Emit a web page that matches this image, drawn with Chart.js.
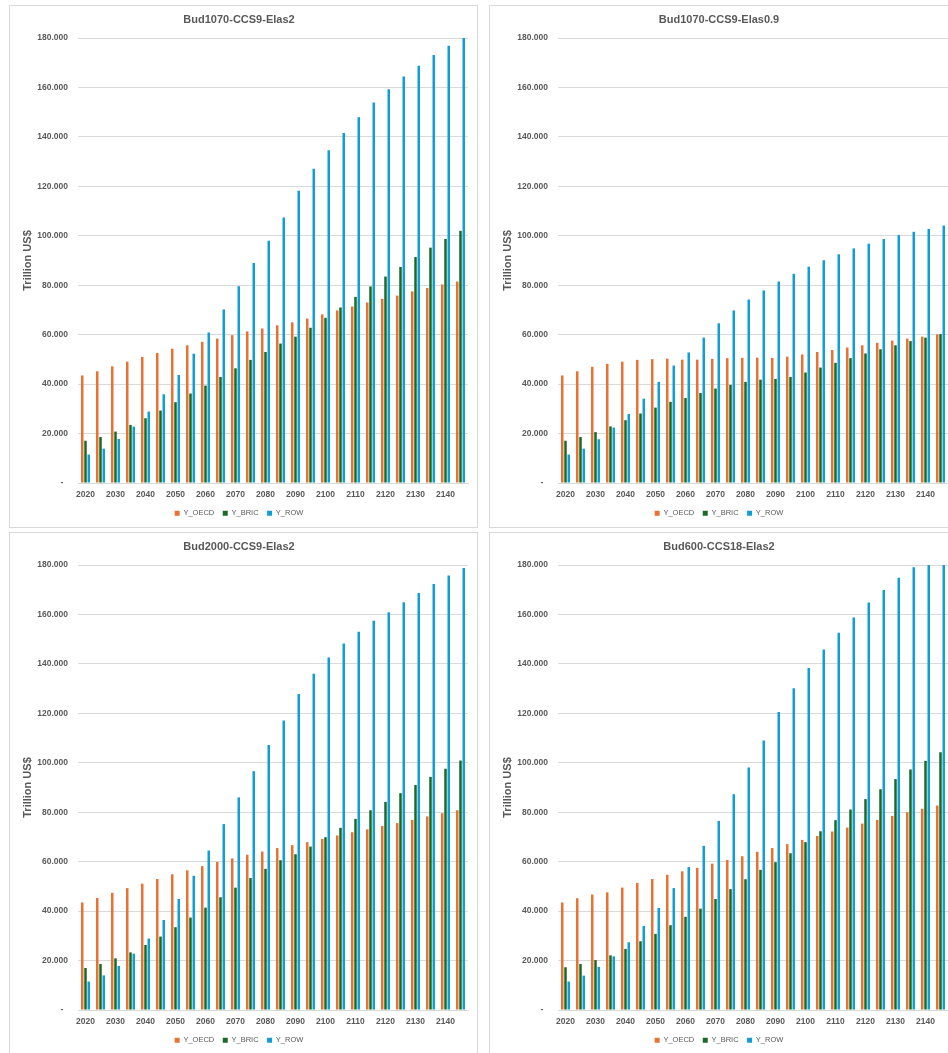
<!DOCTYPE html>
<html>
<head>
<meta charset="utf-8">
<script src="https://cdn.jsdelivr.net/npm/chart.js@4.4.1/dist/chart.umd.min.js"></script>
<style>
  html, body { margin: 0; padding: 0; background: #fff; width: 948px; height: 1053px; overflow: hidden; }
  .panel { position: absolute; width: 469px; height: 523px; border: 1px solid #d9d9d9; box-sizing: border-box; background: #fff; }
  .panel canvas { display: block; }
</style>
</head>
<body>
<div class="panel" style="left:9px; top:5px;"><canvas id="c1" width="467" height="521"></canvas></div>
<div class="panel" style="left:489px; top:5px;"><canvas id="c2" width="467" height="521"></canvas></div>
<div class="panel" style="left:9px; top:532px;"><canvas id="c3" width="467" height="521"></canvas></div>
<div class="panel" style="left:489px; top:532px;"><canvas id="c4" width="467" height="521"></canvas></div>
<script>
const years = ['2020','2025','2030','2035','2040','2045','2050','2055','2060','2065','2070','2075','2080',
  '2085','2090','2095','2100','2105','2110','2115','2120','2125','2130','2135','2140','2145'];
const shownYears = ['2020','2030','2040','2050','2060','2070','2080','2090','2100','2110','2120','2130','2140'];
const seriesNames = ['Y_OECD', 'Y_BRIC', 'Y_ROW'];

// Bud1070-CCS9-Elas2
const oecdA = [43.5,45.2,47.2,49.1,51.0,52.6,54.3,55.7,57.1,58.4,59.8,61.3,62.5,63.8,65.0,66.5,68.2,69.8,71.4,73.0,74.5,75.8,77.5,78.9,80.3,81.5];
const bricA = [17.1,18.6,20.8,23.5,26.2,29.3,32.7,36.2,39.4,42.9,46.4,49.8,53.0,56.4,59.2,62.8,66.8,71.0,75.3,79.5,83.5,87.4,91.4,95.2,98.7,102.0];
const rowA = [11.5,13.9,17.8,22.8,28.9,35.9,43.7,52.3,60.9,70.2,79.6,89.0,98.0,107.4,118.2,127.1,134.6,141.6,147.9,153.9,159.3,164.4,168.8,173.1,176.9,180.4];

// Bud1070-CCS9-Elas0.9
const oecdB = [43.5,45.2,47.0,48.2,49.1,49.8,50.1,50.3,49.9,49.9,50.2,50.5,50.6,50.7,50.6,51.1,52.0,53.0,53.8,54.8,55.7,56.7,57.6,58.4,59.2,60.1];
const bricB = [17.1,18.6,20.6,22.9,25.4,28.1,30.5,32.8,34.4,36.4,38.2,39.7,40.9,41.8,42.1,42.9,44.7,46.7,48.6,50.5,52.4,54.1,55.7,57.4,58.8,60.2];
const rowB = [11.5,13.9,17.7,22.4,27.9,34.1,40.9,47.5,52.8,58.8,64.6,69.8,74.2,77.9,81.5,84.6,87.5,90.1,92.5,94.9,96.8,98.7,100.3,101.6,102.8,104.2];

// Bud2000-CCS9-Elas2
const oecdC = [43.5,45.3,47.4,49.3,51.1,53.0,54.9,56.5,58.2,59.9,61.3,62.8,64.1,65.5,66.7,67.9,69.2,70.6,71.9,73.1,74.4,75.6,76.9,78.3,79.6,80.8];
const bricC = [17.0,18.6,20.9,23.3,26.3,29.7,33.5,37.4,41.4,45.6,49.5,53.4,57.1,60.6,63.0,66.1,69.9,73.7,77.3,80.8,84.2,87.7,91.0,94.3,97.6,100.9];
const rowC = [11.5,14.0,17.8,22.8,28.9,36.4,44.9,54.3,64.5,75.2,86.0,96.6,107.2,117.1,127.8,136.0,142.6,148.2,153.0,157.4,160.9,164.9,168.7,172.3,175.8,178.8];

// Bud600-CCS18-Elas2
const oecdD = [43.5,45.2,46.7,47.6,49.5,51.4,53.0,54.7,56.1,57.5,59.2,60.7,62.2,64.0,65.5,67.1,68.8,70.4,72.2,73.8,75.4,76.9,78.5,80.0,81.4,82.7];
const bricD = [17.3,18.6,20.2,22.1,24.7,27.8,30.8,34.3,37.7,41.0,44.9,48.9,52.9,56.7,59.8,63.4,67.9,72.3,76.8,81.1,85.3,89.3,93.4,97.3,100.8,104.3];
const rowD = [11.5,13.9,17.4,21.7,27.4,34.0,41.3,49.3,57.8,66.4,76.5,87.3,98.1,109.0,120.5,130.1,138.3,145.8,152.6,158.8,164.8,169.9,174.8,179.1,183.2,187.0];

const colors = ['#E97132', '#196B24', '#0F9ED5'];
const fontFam = "'Liberation Sans', Arial, sans-serif";
const grey = '#595959';

function drawChart(id, title, oecd, bric, row) {
  const ctx = document.getElementById(id).getContext('2d');
  const values = [oecd, bric, row];
  new Chart(ctx, {
    type: 'bar',
    data: {
      labels: years,
      datasets: seriesNames.map((name, i) => ({
        label: name,
        data: values[i],
        backgroundColor: colors[i],
        borderWidth: 0,
        categoryPercentage: 0.65,
        barPercentage: 0.77,
      })),
    },
    options: {
      responsive: false,
      animation: false,
      layout: { padding: { top: 0, left: 0, right: 9, bottom: 0 } },
      plugins: {
        title: {
          display: true,
          text: title,
          color: grey,
          font: { family: fontFam, size: 11, weight: 'bold' },
          padding: { top: 7.7, bottom: 11.1 },
        },
        legend: {
          position: 'bottom',
          labels: {
            boxWidth: 5,
            boxHeight: 5,
            padding: 8.5,
            color: grey,
            font: { family: fontFam, size: 7.5 },
          },
        },
        tooltip: { enabled: false },
      },
      scales: {
        x: {
          grid: { display: false, drawTicks: false },
          border: { display: true, color: '#d9d9d9' },
          ticks: {
            autoSkip: false,
            maxRotation: 0,
            padding: 7,
            color: grey,
            font: { family: fontFam, size: 8.5, weight: 'bold' },
            callback: function (value) {
              const lab = this.getLabelForValue(value);
              return shownYears.includes(lab) ? lab : '';
            },
          },
          afterFit: (scale) => { scale.height = 18; },
        },
        y: {
          min: 0,
          max: 180,
          grid: { color: '#d9d9d9', drawTicks: false },
          border: { display: false },
          ticks: {
            stepSize: 20,
            padding: 10,
            color: grey,
            font: { family: fontFam, size: 8.5, weight: 'bold' },
            callback: (v) => (v === 0 ? '-  ' : v.toFixed(3)),
          },
          title: {
            display: true,
            text: 'Trillion US$',
            color: grey,
            font: { family: fontFam, size: 11, weight: 'bold' },
            padding: { top: 11, bottom: 0 },
          },
          afterFit: (scale) => { scale.width = 68; },
        },
      },
    },
  });
}

drawChart('c1', 'Bud1070-CCS9-Elas2', oecdA, bricA, rowA);
drawChart('c2', 'Bud1070-CCS9-Elas0.9', oecdB, bricB, rowB);
drawChart('c3', 'Bud2000-CCS9-Elas2', oecdC, bricC, rowC);
drawChart('c4', 'Bud600-CCS18-Elas2', oecdD, bricD, rowD);
</script>
</body>
</html>
